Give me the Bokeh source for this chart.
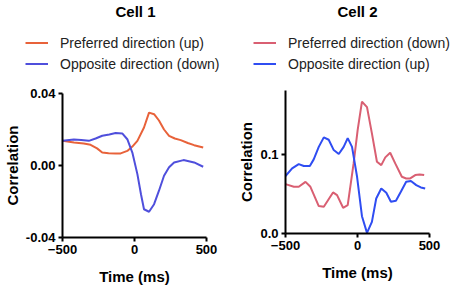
from bokeh.plotting import figure
from bokeh.models import Legend, LegendItem, Label, Range1d, FixedTicker, CustomJSTickFormatter
from bokeh.layouts import row, column
from bokeh.embed import file_html
from bokeh.resources import INLINE

# ---- Cell 1 data ----
c1_pref_t = [-500, -420, -352, -305, -260, -224, -180, -131, -96, -50, -15, 20, 66, 101, 136, 170, 205, 240, 280, 321, 370, 414, 477]
c1_pref_v = [0.0137, 0.0128, 0.0122, 0.0115, 0.0095, 0.0072, 0.0068, 0.0067, 0.0067, 0.0081, 0.0105, 0.0137, 0.0211, 0.0294, 0.0285, 0.0250, 0.0200, 0.0165, 0.0150, 0.0141, 0.0125, 0.0113, 0.0100]
c1_opp_t = [-500, -421, -370, -317, -270, -224, -175, -131, -85, -50, -15, 20, 45, 66, 101, 136, 170, 205, 240, 275, 340, 414, 477]
c1_opp_v = [0.0137, 0.0144, 0.0142, 0.0137, 0.0150, 0.0165, 0.0172, 0.0180, 0.0178, 0.0146, 0.0072, -0.0048, -0.0160, -0.0243, -0.0257, -0.0215, -0.0140, -0.0057, -0.0010, 0.0017, 0.0030, 0.0017, -0.0007]

# ---- Cell 2 data ----
c2_pref_t = [-500, -442, -408, -361, -327, -269, -234, -170, -142, -100, -68, -27, 1, 31, 66, 100, 135, 165, 193, 227, 262, 308, 338, 366, 401, 431, 463]
c2_pref_v = [0.0622, 0.0588, 0.0588, 0.0650, 0.0588, 0.0345, 0.0336, 0.0517, 0.0483, 0.0324, 0.0357, 0.0882, 0.1300, 0.1660, 0.1590, 0.1260, 0.0903, 0.0861, 0.0958, 0.1017, 0.0882, 0.0714, 0.0693, 0.0693, 0.0735, 0.0744, 0.0735]
c2_opp_t = [-500, -454, -408, -373, -331, -304, -269, -234, -200, -165, -130, -96, -68, -38, -3, 31, 66, 100, 130, 165, 200, 232, 267, 301, 338, 371, 408, 440, 470]
c2_opp_v = [0.0723, 0.0819, 0.0874, 0.0849, 0.0849, 0.0933, 0.1090, 0.1210, 0.1180, 0.1050, 0.1000, 0.1090, 0.1200, 0.1090, 0.0714, 0.0218, 0.0008, 0.0147, 0.0441, 0.0567, 0.0513, 0.0399, 0.0412, 0.0525, 0.0651, 0.0660, 0.0609, 0.0580, 0.0567]

titles = ["Cell 1", "Cell 2"]
c1_labels = ["Preferred direction (up)", "Opposite direction (down)"]
c2_labels = ["Preferred direction (down)", "Opposite direction (up)"]
c1_colors = ["#E8623A", "#4F4FDC"]
c2_colors = ["#D95F72", "#2F4DF2"]

x_ticks = [-500, 0, 500]
c1_y_ticks = [-0.04, 0.0, 0.04]
c2_y_ticks = [0.0, 0.1]

FONT = "Liberation Sans"
HEAD_W, HEAD_H = 454, 74


def style(p, yticks, yfmt):
    p.xgrid.grid_line_color = None
    p.ygrid.grid_line_color = None
    p.outline_line_color = None
    p.xaxis.ticker = FixedTicker(ticks=x_ticks)
    p.yaxis.ticker = FixedTicker(ticks=yticks)
    p.yaxis.formatter = CustomJSTickFormatter(code="return tick.toFixed(%d);" % yfmt)
    for ax in (p.xaxis[0], p.yaxis[0]):
        ax.axis_line_width = 2
        ax.axis_line_color = "black"
        ax.major_tick_line_width = 2
        ax.major_tick_line_color = "black"
        ax.major_tick_out = 4
        ax.major_tick_in = 0
        ax.minor_tick_line_color = None
        ax.major_label_text_font = FONT
        ax.major_label_text_font_style = "bold"
        ax.major_label_text_font_size = "13px"
        ax.major_label_text_color = "black"
        ax.axis_label_text_font = FONT
        ax.axis_label_text_font_style = "bold"
        ax.axis_label_text_font_size = "15px"
        ax.axis_label_text_color = "black"
    p.xaxis.axis_label = "Time (ms)"
    p.yaxis.axis_label = "Correlation"
    p.xaxis.major_label_standoff = 3
    p.yaxis.major_label_standoff = 3
    p.xaxis.axis_label_standoff = 11
    p.yaxis.axis_label_standoff = 2


# ---- header: titles and legends ----
head = figure(width=HEAD_W, height=HEAD_H, output_backend="svg", toolbar_location=None,
              x_range=Range1d(0, HEAD_W), y_range=Range1d(0, HEAD_H),
              x_axis_location=None, y_axis_location=None, min_border=0)
head.xgrid.grid_line_color = None
head.ygrid.grid_line_color = None
head.outline_line_color = None

for title, cx in zip(titles, [135, 357]):
    head.add_layout(Label(x=cx, y=HEAD_H - 2, x_units="screen", y_units="screen", text=title,
                          text_font=FONT, text_font_style="bold", text_font_size="15px",
                          text_align="center", text_baseline="top", text_color="black"))

nan = float("nan")
for labels, colors, lx in [(c1_labels, c1_colors, 25), (c2_labels, c2_colors, 253)]:
    items = []
    for lab, col in zip(labels, colors):
        r = head.line(x=[nan, nan], y=[nan, nan], line_color=col, line_width=2)
        items.append(LegendItem(label=lab, renderers=[r]))
    leg = Legend(items=items, location=(lx, 0), orientation="vertical",
                 label_text_font=FONT, label_text_font_size="14px", label_text_color="#222222",
                 glyph_width=23, glyph_height=21, label_height=21, spacing=0,
                 padding=0, margin=0, label_standoff=12, border_line_color=None,
                 background_fill_alpha=0)
    head.add_layout(leg, "center")

# ---- plots ----
p1 = figure(frame_width=144, frame_height=144, output_backend="svg", toolbar_location=None,
            x_range=Range1d(-500, 500), y_range=Range1d(-0.04, 0.04),
            min_border_left=62, min_border_right=20, min_border_top=19, min_border_bottom=46)
style(p1, c1_y_ticks, 2)
p1.line(c1_pref_t, c1_pref_v, line_color=c1_colors[0], line_width=2)
p1.line(c1_opp_t, c1_opp_v, line_color=c1_colors[1], line_width=2)

p2 = figure(frame_width=144, frame_height=143, output_backend="svg", toolbar_location=None,
            x_range=Range1d(-500, 500), y_range=Range1d(0.0, 0.18),
            min_border_left=59, min_border_right=25, min_border_top=16, min_border_bottom=46)
style(p2, c2_y_ticks, 1)
p2.line(c2_pref_t, c2_pref_v, line_color=c2_colors[0], line_width=2)
p2.line(c2_opp_t, c2_opp_v, line_color=c2_colors[1], line_width=2)

layout = column(head, row(column(p1), column(p2)))
open("out.html", "w").write(file_html(layout, INLINE))
